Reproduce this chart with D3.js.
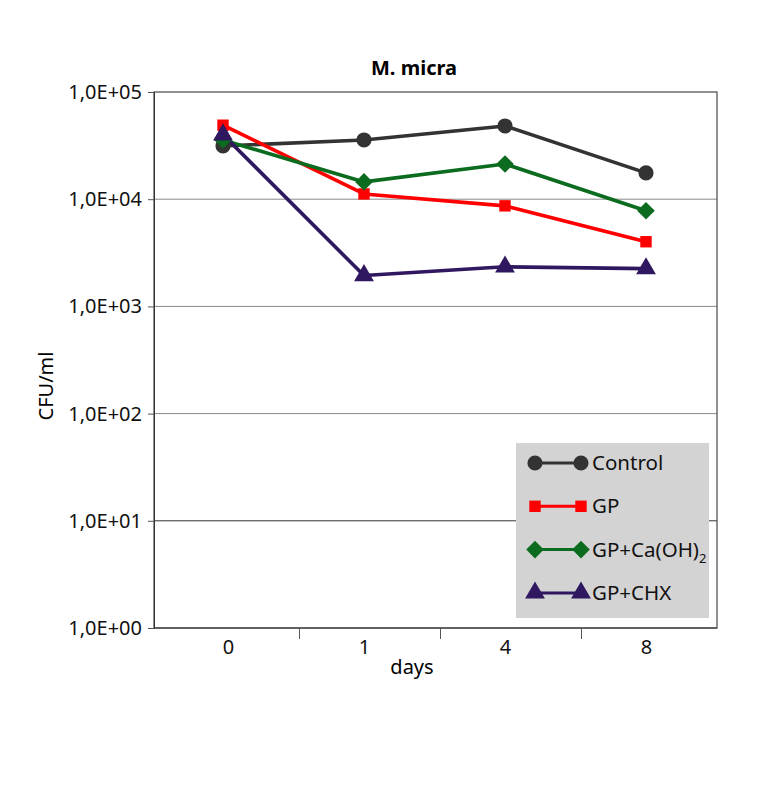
<!DOCTYPE html>
<html><head><meta charset="utf-8">
<script src="https://cdn.jsdelivr.net/npm/d3@7"></script>
<style>body{margin:0;background:#fff}svg{display:block}text{font-family:"Noto Sans","Open Sans",sans-serif}</style>
</head><body>
<svg id="c" width="760" height="795"></svg>
<script>
const days = ["0","1","4","8"];
const seriesNames = ["Control","GP","GP+Ca(OH)2","GP+CHX"];
const control = [31400, 35700, 48200, 17600];
const gp = [49000, 11200, 8670, 4010];
const gpCa = [35700, 14500, 21300, 7800];
const gpChx = [40000, 1940, 2340, 2250];
const yTicks = [1, 10, 100, 1000, 10000, 100000];
const yTickLabels = ["1,0E+00","1,0E+01","1,0E+02","1,0E+03","1,0E+04","1,0E+05"];
const colors = ["#333333","#ff0000","#0b6b1e","#2f1860"];

const diamond = {draw(ctx,size){const r=Math.sqrt(size)/Math.SQRT2;ctx.moveTo(0,-r);ctx.lineTo(r,0);ctx.lineTo(0,r);ctx.lineTo(-r,0);ctx.closePath();}};
const shapes = [d3.symbolCircle, d3.symbolSquare, diamond, d3.symbolTriangle];
const symSizes = [180, 130, 155, 170];

const svg = d3.select("#c");
const L=154, R=717, T=92, B=628;
const x = d3.scalePoint().domain(days).range([223,646]);
const y = d3.scaleLog().domain([1,100000]).range([B,T]);

// gridlines
svg.append("g").selectAll("line").data(yTicks.slice(1,5)).join("line")
  .attr("x1",L).attr("x2",R).attr("y1",d=>y(d)).attr("y2",d=>y(d))
  .attr("stroke",(d)=>d===10?"#333":"#8a8a8a").attr("stroke-width",1);

// frame
svg.append("rect").attr("x",L).attr("y",T).attr("width",R-L).attr("height",B-T)
  .attr("fill","none").attr("stroke","#555").attr("stroke-width",1.3);

// y axis
const yAxis = d3.axisLeft(y).tickValues(yTicks).tickFormat((d,i)=>yTickLabels[i]).tickSize(6).tickPadding(6);
const gy = svg.append("g").attr("transform",`translate(${L},0)`).call(yAxis);
gy.select(".domain").attr("stroke","#333");
gy.selectAll(".tick line").attr("stroke","#555");
gy.selectAll("text").attr("font-size",20).attr("fill","#111");

// x axis
const xAxis = d3.axisBottom(x).tickSize(0).tickPadding(12);
const gx = svg.append("g").attr("transform",`translate(0,${B})`).call(xAxis);
gx.select(".domain").attr("stroke","#333").attr("d",`M${L},0H${R}`);
gx.selectAll("text").attr("font-size",20).attr("fill","#111");
gx.selectAll(".tick").filter(d=>d==="0").select("text").attr("dx",5);
// between-category tick marks
svg.append("g").selectAll("line").data(days.slice(1)).join("line")
  .attr("x1",d=>x(d)-x.step()/2+6).attr("x2",d=>x(d)-x.step()/2+6).attr("y1",B).attr("y2",B+11)
  .attr("stroke","#555").attr("stroke-width",1);

// title and axis labels
svg.append("text").attr("x",414).attr("y",75).attr("text-anchor","middle")
  .attr("font-size",20).attr("font-weight","bold").text("M. micra");
svg.append("text").attr("x",412).attr("y",674).attr("text-anchor","middle")
  .attr("font-size",20).text("days");
svg.append("text").attr("transform","translate(53,386) rotate(-90)").attr("text-anchor","middle")
  .attr("font-size",20).text("CFU/ml");

// series
const allSeries = [control, gp, gpCa, gpChx];
const line = d3.line().x((d,i)=>x(days[i])).y(d=>y(d));
allSeries.forEach((s,k)=>{
  svg.append("path").datum(s).attr("d",line).attr("fill","none")
    .attr("stroke",colors[k]).attr("stroke-width",3.6).attr("stroke-linejoin","round");
});
allSeries.forEach((s,k)=>{
  svg.append("g").selectAll("path").data(s).join("path")
    .attr("transform",(d,i)=>`translate(${x(days[i])},${y(d)})`)
    .attr("d",d3.symbol().type(shapes[k]).size(symSizes[k]))
    .attr("fill",colors[k]);
});

// legend
const lg = svg.append("g");
lg.append("rect").attr("x",516).attr("y",443).attr("width",193).attr("height",175).attr("fill","#d3d3d3");
seriesNames.forEach((n,k)=>{
  const yy = 463 + k*43.3;
  lg.append("line").attr("x1",535).attr("x2",581).attr("y1",yy).attr("y2",yy)
    .attr("stroke",colors[k]).attr("stroke-width",3);
  [535,581].forEach(xx=>lg.append("path").attr("transform",`translate(${xx},${yy})`)
    .attr("d",d3.symbol().type(shapes[k]).size(symSizes[k])).attr("fill",colors[k]));
  const t = lg.append("text").attr("x",592).attr("y",yy+7).attr("font-size",20.5).attr("fill","#111");
  if(n==="GP+Ca(OH)2"){
    t.append("tspan").text("GP+Ca(OH)");
    t.append("tspan").attr("font-size",13).attr("dy",6).text("2");
  } else t.text(n);
});
</script>
</body></html>
